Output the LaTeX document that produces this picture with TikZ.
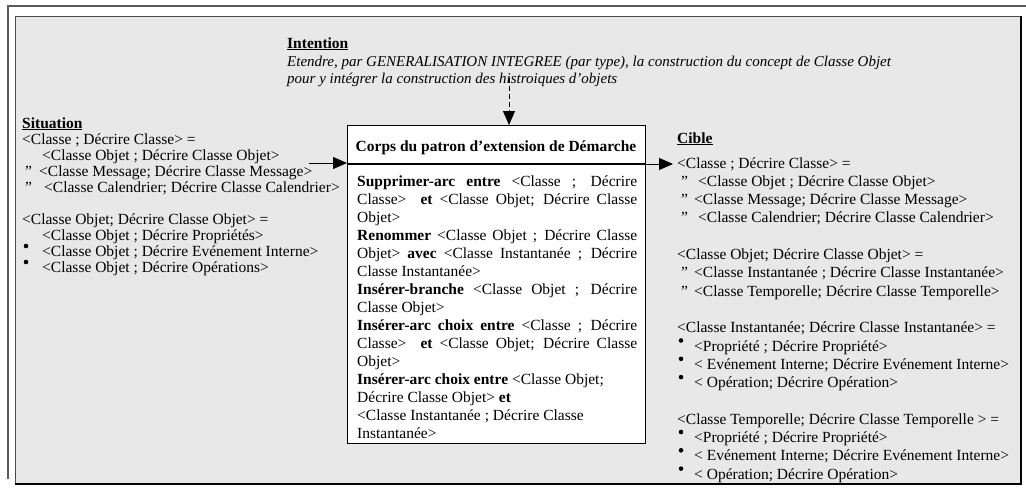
\documentclass[tikz,border=0pt]{standalone}
\usepackage{fontspec}
\setmainfont{Liberation Serif}
\usetikzlibrary{arrows.meta}
\definecolor{panel}{RGB}{232,232,232}
\definecolor{frameline}{RGB}{90,90,90}
\newcommand\dq{\char"22\relax}
\begin{document}
\begin{tikzpicture}[x=1pt,y=-1pt,
  font=\fontsize{15.5}{18}\selectfont,
  txt/.style={anchor=base west, inner sep=0pt},
  dot/.style={circle, fill=black, inner sep=0pt, minimum size=4.6pt},
  arr/.style={-{Triangle[length=14pt,width=12pt]}, line width=1pt},
  bodyline/.style={anchor=base west, inner sep=0pt}]
\useasboundingbox (0,0) rectangle (1026,488);
% outer frame
\draw[frameline, line width=1.8pt] (8,479) -- (8,6) -- (1026,6);
% panel
\fill[panel] (15,16) rectangle (1021,484);
\draw[black!70, line width=0.7pt] (15,484) -- (15,16) -- (1021,16);
\draw[black, line width=1.4pt] (15,484) -- (1021,484) -- (1021,16);

% Intention
\node[txt] (intT) at (287,48) {\textbf{\underline{Intention}}};
\node[txt, font=\fontsize{15}{18}\selectfont\itshape] (int1) at (287,66) {Etendre, par GENERALISATION INTEGREE (par type), la construction du concept de Classe Objet};
\node[txt, font=\fontsize{15}{18}\selectfont\itshape] (int2) at (287,83) {pour y intégrer la construction des histroiques d’objets};

% central box
\node[draw, line width=1.2pt, fill=white, anchor=north west, minimum width=298pt, minimum height=318pt, inner sep=0pt] (box) at (347,125) {};
\node[anchor=base, inner sep=0pt] (hdr) at (496,151) {\bfseries Corps du patron d’extension de Démarche};
\coordinate (divL) at (347,164);
\draw[line width=1.2pt] (divL) -- (divL -| box.east);
\node[bodyline] (b1) at (357,186) {\makebox[280pt][s]{\textbf{Supprimer-arc entre} <Classe ; Décrire}};
\node[bodyline] (b2) at (357,204) {\makebox[280pt][s]{Classe> \ \textbf{et} <Classe Objet; Décrire Classe}};
\node[bodyline] (b3) at (357,222) {Objet>};
\node[bodyline] (b4) at (357,240) {\makebox[280pt][s]{\textbf{Renommer} <Classe Objet ; Décrire Classe}};
\node[bodyline] (b5) at (357,258) {\makebox[280pt][s]{Objet> \textbf{avec} <Classe Instantanée ; Décrire}};
\node[bodyline] (b6) at (357,276) {Classe Instantanée>};
\node[bodyline] (b7) at (357,294) {\makebox[280pt][s]{\textbf{Insérer-branche} <Classe Objet ; Décrire}};
\node[bodyline] (b8) at (357,312) {Classe Objet>};
\node[bodyline] (b9) at (357,330) {\makebox[280pt][s]{\textbf{Insérer-arc choix entre} <Classe ; Décrire}};
\node[bodyline] (b10) at (357,348) {\makebox[280pt][s]{Classe> \ \textbf{et} <Classe Objet; Décrire Classe}};
\node[bodyline] (b11) at (357,366) {Objet>};
\node[bodyline] (b12) at (357,384) {\textbf{Insérer-arc choix entre} <Classe Objet;};
\node[bodyline] (b13) at (357,402) {Décrire Classe Objet> \textbf{et}};
\node[bodyline] (b14) at (357,420) {<Classe Instantanée ; Décrire Classe};
\node[bodyline] (b15) at (357,438) {Instantanée>};

% Situation
\node[txt] (sT) at (22,128) {\textbf{\underline{Situation}}};
\node[txt] (s1) at (22,144) {<Classe ; Décrire Classe> =};
\node[txt] (s2) at (42,160) {<Classe Objet ; Décrire Classe Objet>};
\node[txt] (s3q) at (25,176) {\dq};
\node[txt] (s3) at (39,176) {<Classe Message; Décrire Classe Message>};
\node[txt] (s4q) at (25,192) {\dq};
\node[txt] (s4) at (44,192) {<Classe Calendrier; Décrire Classe Calendrier>};
\node[txt] (s5) at (22,224) {<Classe Objet; Décrire Classe Objet> =};
\node[txt] (s6) at (42,240) {<Classe Objet ; Décrire Propriétés>};
\node[dot] (s7d) at (26,246) {};
\node[txt] (s7) at (42,256) {<Classe Objet ; Décrire Evénement Interne>};
\node[dot] (s8d) at (26,262) {};
\node[txt] (s8) at (42,272) {<Classe Objet ; Décrire Opérations>};

% Cible
\node[txt] (cT) at (677,143) {\textbf{\underline{Cible}}};
\node[txt] (c0) at (677,168) {<Classe ; Décrire Classe> =};
\node[txt] (c1q) at (681,186.3) {\dq};
\node[txt] (c1) at (698,186.3) {<Classe Objet ; Décrire Classe Objet>};
\node[txt] (c2q) at (681,204.6) {\dq};
\node[txt] (c2) at (694,204.6) {<Classe Message; Décrire Classe Message>};
\node[txt] (c3q) at (681,222.9) {\dq};
\node[txt] (c3) at (698,222.9) {<Classe Calendrier; Décrire Classe Calendrier>};
\node[txt] (c5) at (677,259.5) {<Classe Objet; Décrire Classe Objet> =};
\node[txt] (c6q) at (681,277.8) {\dq};
\node[txt] (c6) at (694,277.8) {<Classe Instantanée ; Décrire Classe Instantanée>};
\node[txt] (c7q) at (681,296.1) {\dq};
\node[txt] (c7) at (694,296.1) {<Classe Temporelle; Décrire Classe Temporelle>};
\node[txt] (c9) at (677,332.7) {<Classe Instantanée; Décrire Classe Instantanée> =};
\node[dot] (c10d) at (681,340.5) {};
\node[txt] (c10) at (694,351) {<Propriété ; Décrire Propriété>};
\node[dot] (c11d) at (681,358.8) {};
\node[txt] (c11) at (694,369.3) {< Evénement Interne; Décrire Evénement Interne>};
\node[dot] (c12d) at (681,377.1) {};
\node[txt] (c12) at (694,387.6) {< Opération; Décrire Opération>};
\node[txt] (c14) at (677,424.2) {<Classe Temporelle; Décrire Classe Temporelle > =};
\node[dot] (c15d) at (681,432) {};
\node[txt] (c15) at (694,442.5) {<Propriété ; Décrire Propriété>};
\node[dot] (c16d) at (681,450.3) {};
\node[txt] (c16) at (694,460.8) {< Evénement Interne; Décrire Evénement Interne>};
\node[dot] (c17d) at (681,468.6) {};
\node[txt] (c17) at (694,479.1) {< Opération; Décrire Opération>};

% connectors
\coordinate (dtop) at (509,78);
\draw[dash pattern=on 5pt off 3pt, line width=1pt, -{Triangle[length=14pt,width=12pt]}] (dtop) -- (dtop |- box.north);
\coordinate (sitArr) at (309,163);
\draw[arr] (sitArr) -- (sitArr -| box.west);
\coordinate (cibArr) at (673,164);
\draw[arr] (cibArr -| box.east) -- (cibArr);
\end{tikzpicture}
\end{document}
